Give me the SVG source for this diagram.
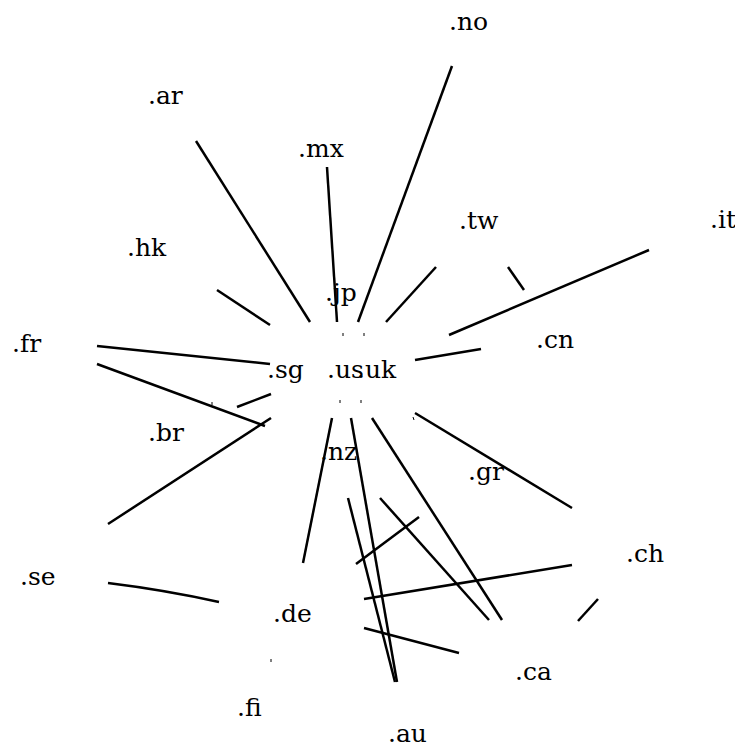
<svg xmlns="http://www.w3.org/2000/svg" width="735" height="748" viewBox="0 0 735 748">
<style>
.t text{font-family:"DejaVu Serif",serif;font-size:25px;fill:#000}
.e{stroke:#000;stroke-width:2.5;fill:none}
.d{stroke:#000;stroke-width:1;fill:none}
</style>
<rect width="735" height="748" fill="#fff"/>
<g id="connectors">
<line class="e" x1="452" y1="66" x2="358" y2="322"/>
<line class="e" x1="196" y1="141" x2="310" y2="322"/>
<line class="e" x1="327" y1="167" x2="337" y2="322"/>
<line class="e" x1="217" y1="290" x2="270" y2="325"/>
<line class="e" x1="436" y1="267" x2="386" y2="322"/>
<line class="e" x1="508" y1="267" x2="524" y2="290"/>
<line class="e" x1="649" y1="250" x2="449" y2="335"/>
<line class="e" x1="415" y1="360" x2="481" y2="349"/>
<line class="e" x1="97" y1="346" x2="270" y2="364"/>
<line class="e" x1="97" y1="364" x2="265" y2="426"/>
<line class="e" x1="237" y1="407" x2="271" y2="394"/>
<line class="e" x1="108" y1="524" x2="271" y2="418"/>
<path class="e" d="M108,583 Q165,590 219,602"/>
<line class="e" x1="332" y1="418" x2="303" y2="563"/>
<line class="e" x1="351" y1="418" x2="397" y2="682"/>
<line class="e" x1="348" y1="498" x2="395" y2="682"/>
<line class="e" x1="372" y1="418" x2="502" y2="620"/>
<line class="e" x1="380" y1="498" x2="489" y2="620"/>
<line class="e" x1="415" y1="413" x2="572" y2="508"/>
<line class="e" x1="356" y1="564" x2="419" y2="517"/>
<line class="e" x1="364" y1="599" x2="572" y2="565"/>
<line class="e" x1="364" y1="628" x2="459" y2="653"/>
<line class="e" x1="598" y1="599" x2="578" y2="621"/>
<line class="d" x1="343" y1="333" x2="343" y2="336"/>
<line class="d" x1="364" y1="333" x2="364" y2="336"/>
<line class="d" x1="340" y1="400" x2="340" y2="403"/>
<line class="d" x1="361" y1="400" x2="361" y2="403"/>
<line class="d" x1="413" y1="417" x2="414" y2="420"/>
<line class="d" x1="271" y1="659" x2="271" y2="662"/>
<line class="d" x1="212" y1="402" x2="212" y2="405"/>
</g>
<g class="t">
<g id="n-no"><text x="449" y="30">.no</text></g>
<g id="n-ar"><text x="148" y="104">.ar</text></g>
<g id="n-mx"><text x="298" y="157">.mx</text></g>
<g id="n-tw"><text x="459" y="229">.tw</text></g>
<g id="n-it"><text x="710" y="228">.it</text></g>
<g id="n-hk"><text x="127" y="256">.hk</text></g>
<g id="n-jp"><text x="325" y="301">.jp</text></g>
<g id="n-fr"><text x="12" y="352">.fr</text></g>
<g id="n-sg"><text x="267" y="378">.sg</text></g>
<g id="n-us"><text x="327" y="378">.us</text></g>
<g id="n-uk"><text x="357" y="378">.uk</text></g>
<g id="n-cn"><text x="536" y="348">.cn</text></g>
<g id="n-br"><text x="148" y="441">.br</text></g>
<g id="n-nz"><text x="320" y="460">.nz</text></g>
<g id="n-gr"><text x="468" y="480">.gr</text></g>
<g id="n-se"><text x="20" y="585">.se</text></g>
<g id="n-ch"><text x="626" y="562">.ch</text></g>
<g id="n-de"><text x="273" y="622">.de</text></g>
<g id="n-ca"><text x="515" y="680">.ca</text></g>
<g id="n-fi"><text x="237" y="716">.fi</text></g>
<g id="n-au"><text x="388" y="742">.au</text></g>
</g>
</svg>
